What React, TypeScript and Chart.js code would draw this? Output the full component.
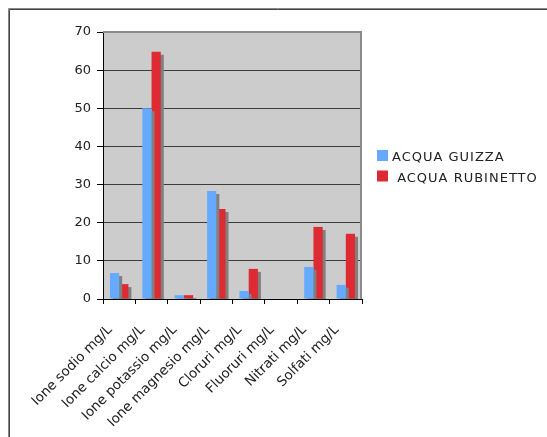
import React, { useEffect, useRef } from "react";
import { Chart, registerables } from "chart.js";

Chart.register(...registerables);

const categories = [
  "Ione sodio mg/L",
  "Ione calcio mg/L",
  "Ione potassio mg/L",
  "Ione magnesio mg/L",
  "Cloruri mg/L",
  "Fluoruri mg/L",
  "Nitrati mg/L",
  "Solfati mg/L",
];
const guizza = [6.8, 50, 1.0, 28.3, 2.1, 0, 8.4, 3.7];
const rubinetto = [3.9, 64.8, 1.0, 23.6, 7.9, 0, 18.9, 17.1];
const seriesNames = ["ACQUA GUIZZA", " ACQUA RUBINETTO"];
const yTicks = [0, 10, 20, 30, 40, 50, 60, 70];

const FONT = "'DejaVu Sans', Verdana, sans-serif";

const framePlugin = {
  id: "frame",
  beforeDraw(chart: any) {
    const { ctx, chartArea: a } = chart;
    ctx.save();
    ctx.fillStyle = "#ffffff";
    ctx.fillRect(0, 0, chart.width, chart.height);
    // outer frame (top and left)
    ctx.strokeStyle = "#888888";
    ctx.lineWidth = 1;
    ctx.beginPath();
    ctx.moveTo(8.5, chart.height);
    ctx.lineTo(8.5, 8.5);
    ctx.lineTo(chart.width, 8.5);
    ctx.stroke();
    ctx.strokeStyle = "#444444";
    ctx.beginPath();
    ctx.moveTo(9.5, chart.height);
    ctx.lineTo(9.5, 9.5);
    ctx.lineTo(chart.width, 9.5);
    ctx.stroke();
    // plot background
    ctx.fillStyle = "#cccccc";
    ctx.fillRect(a.left, a.top, a.right - a.left, a.bottom - a.top);
    ctx.restore();
  },
  beforeDatasetDraw(chart: any) {
    const ctx = chart.ctx;
    ctx.save();
    ctx.shadowColor = "#808080";
    ctx.shadowOffsetX = 3;
    ctx.shadowOffsetY = 3;
    ctx.shadowBlur = 0;
  },
  afterDatasetDraw(chart: any) {
    chart.ctx.restore();
  },
  afterDraw(chart: any) {
    const { ctx, chartArea: a } = chart;
    ctx.save();
    ctx.strokeStyle = "#8a8a8a";
    ctx.lineWidth = 2;
    ctx.beginPath();
    ctx.moveTo(a.left, a.top);
    ctx.lineTo(a.right - 1, a.top);
    ctx.lineTo(a.right - 1, a.bottom);
    ctx.stroke();
    // legend
    const ds = chart.data.datasets;
    ctx.font = `13px ${FONT}`;
    (ctx as any).letterSpacing = "1px";
    ctx.textBaseline = "alphabetic";
    ds.forEach((d: any, i: number) => {
      const y = 150 + i * 20.5;
      ctx.fillStyle = d.backgroundColor;
      ctx.fillRect(377, y, 11, 11);
      ctx.fillStyle = "#222222";
      ctx.fillText(d.label, 392, y + 11);
    });
    ctx.restore();
  },
};

export default function App() {
  const ref = useRef<HTMLCanvasElement>(null);
  useEffect(() => {
    document.body.style.margin = "0";
    const chart = new Chart(ref.current!, {
      type: "bar",
      data: {
        labels: categories,
        datasets: [
          { label: seriesNames[0], data: guizza, backgroundColor: "#66aaff" },
          { label: seriesNames[1], data: rubinetto, backgroundColor: "#dd2a33" },
        ],
      },
      options: {
        responsive: false,
        animation: false,
        layout: { padding: { top: 32, right: 185, left: 0, bottom: 0 } },
        plugins: { legend: { display: false }, tooltip: { enabled: false } },
        datasets: { bar: { categoryPercentage: 0.57, barPercentage: 1.0 } } as any,
        scales: {
          x: {
            afterFit: (s: any) => {
              s.height = 138;
            },
            grid: { offset: true, color: "transparent", tickColor: "#000", tickLength: 5 },
            border: { color: "#000", width: 1 },
            ticks: {
              maxRotation: 45,
              minRotation: 45,
              autoSkip: false,
              color: "#222",
              font: { family: FONT, size: 13.5 },
              padding: 18,
              labelOffset: -9,
            },
          },
          y: {
            min: 0,
            max: 70,
            afterFit: (s: any) => {
              s.width = 103;
            },
            afterBuildTicks: (s: any) => {
              s.ticks = yTicks.map((v) => ({ value: v }));
            },
            grid: {
              color: (c: any) => (c.tick && c.tick.value === 70 ? "transparent" : "#3c3c3c"),
              tickColor: "#000",
              tickLength: 6,
            },
            border: { color: "#000", width: 1 },
            ticks: { color: "#222", font: { family: FONT, size: 13 }, padding: 6 },
          },
        },
      },
      plugins: [framePlugin],
    });
    return () => chart.destroy();
  }, []);
  return (
    <div style={{ position: "absolute", left: 0, top: 0 }}>
      <canvas ref={ref} width={547} height={437} style={{ display: "block" }} />
    </div>
  );
}
